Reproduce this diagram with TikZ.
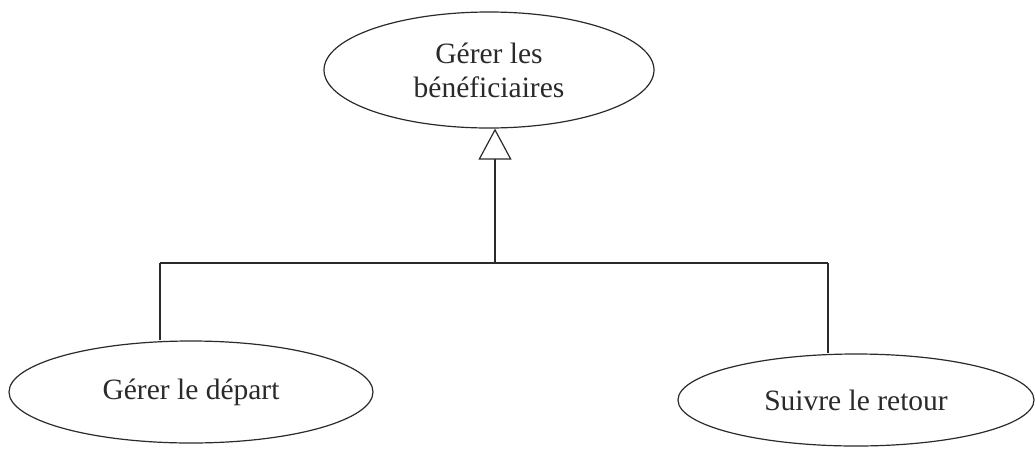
\documentclass[tikz,border=0pt]{standalone}
\usepackage{fontspec}
\setmainfont{Liberation Serif}
\usetikzlibrary{shapes.geometric,arrows.meta}
\definecolor{ink}{HTML}{2A2A2A}
\tikzset{
  usecase/.style={ellipse, draw=ink, line width=1.2pt, inner sep=0pt,
    align=center, font=\fontsize{29.5}{34}\selectfont, text=ink},
  link/.style={draw=ink, line width=1.2pt},
  generalize/.style={link, -{Triangle[open, width=33pt, length=31pt, line width=1.2pt]}}
}
\begin{document}
\begin{tikzpicture}[x=1pt, y=-1pt]
  \useasboundingbox (0,0) rectangle (1035,453);

  % use cases
  \node[usecase, minimum width=330pt, minimum height=116pt] (top) at (489,70)
    {Gérer les\\bénéficiaires};
  \node[usecase, minimum width=364pt, minimum height=102pt] (left) at (191,392)
    {Gérer le départ};
  \node[usecase, minimum width=356pt, minimum height=92pt] (right) at (856,400)
    {Suivre le retour};

  % junction of the generalization tree
  \coordinate (hub) at (495,263);
  \coordinate (barL) at (160,263);
  \coordinate (barR) at (828,263);

  \draw[link] (barL) -- (barR);
  \draw[link] (barL) -- (barL |- left.north);
  \draw[link] (barR) -- (barR |- right.north);
  \draw[generalize] (hub) -- (hub |- top.south);
\end{tikzpicture}
\end{document}
